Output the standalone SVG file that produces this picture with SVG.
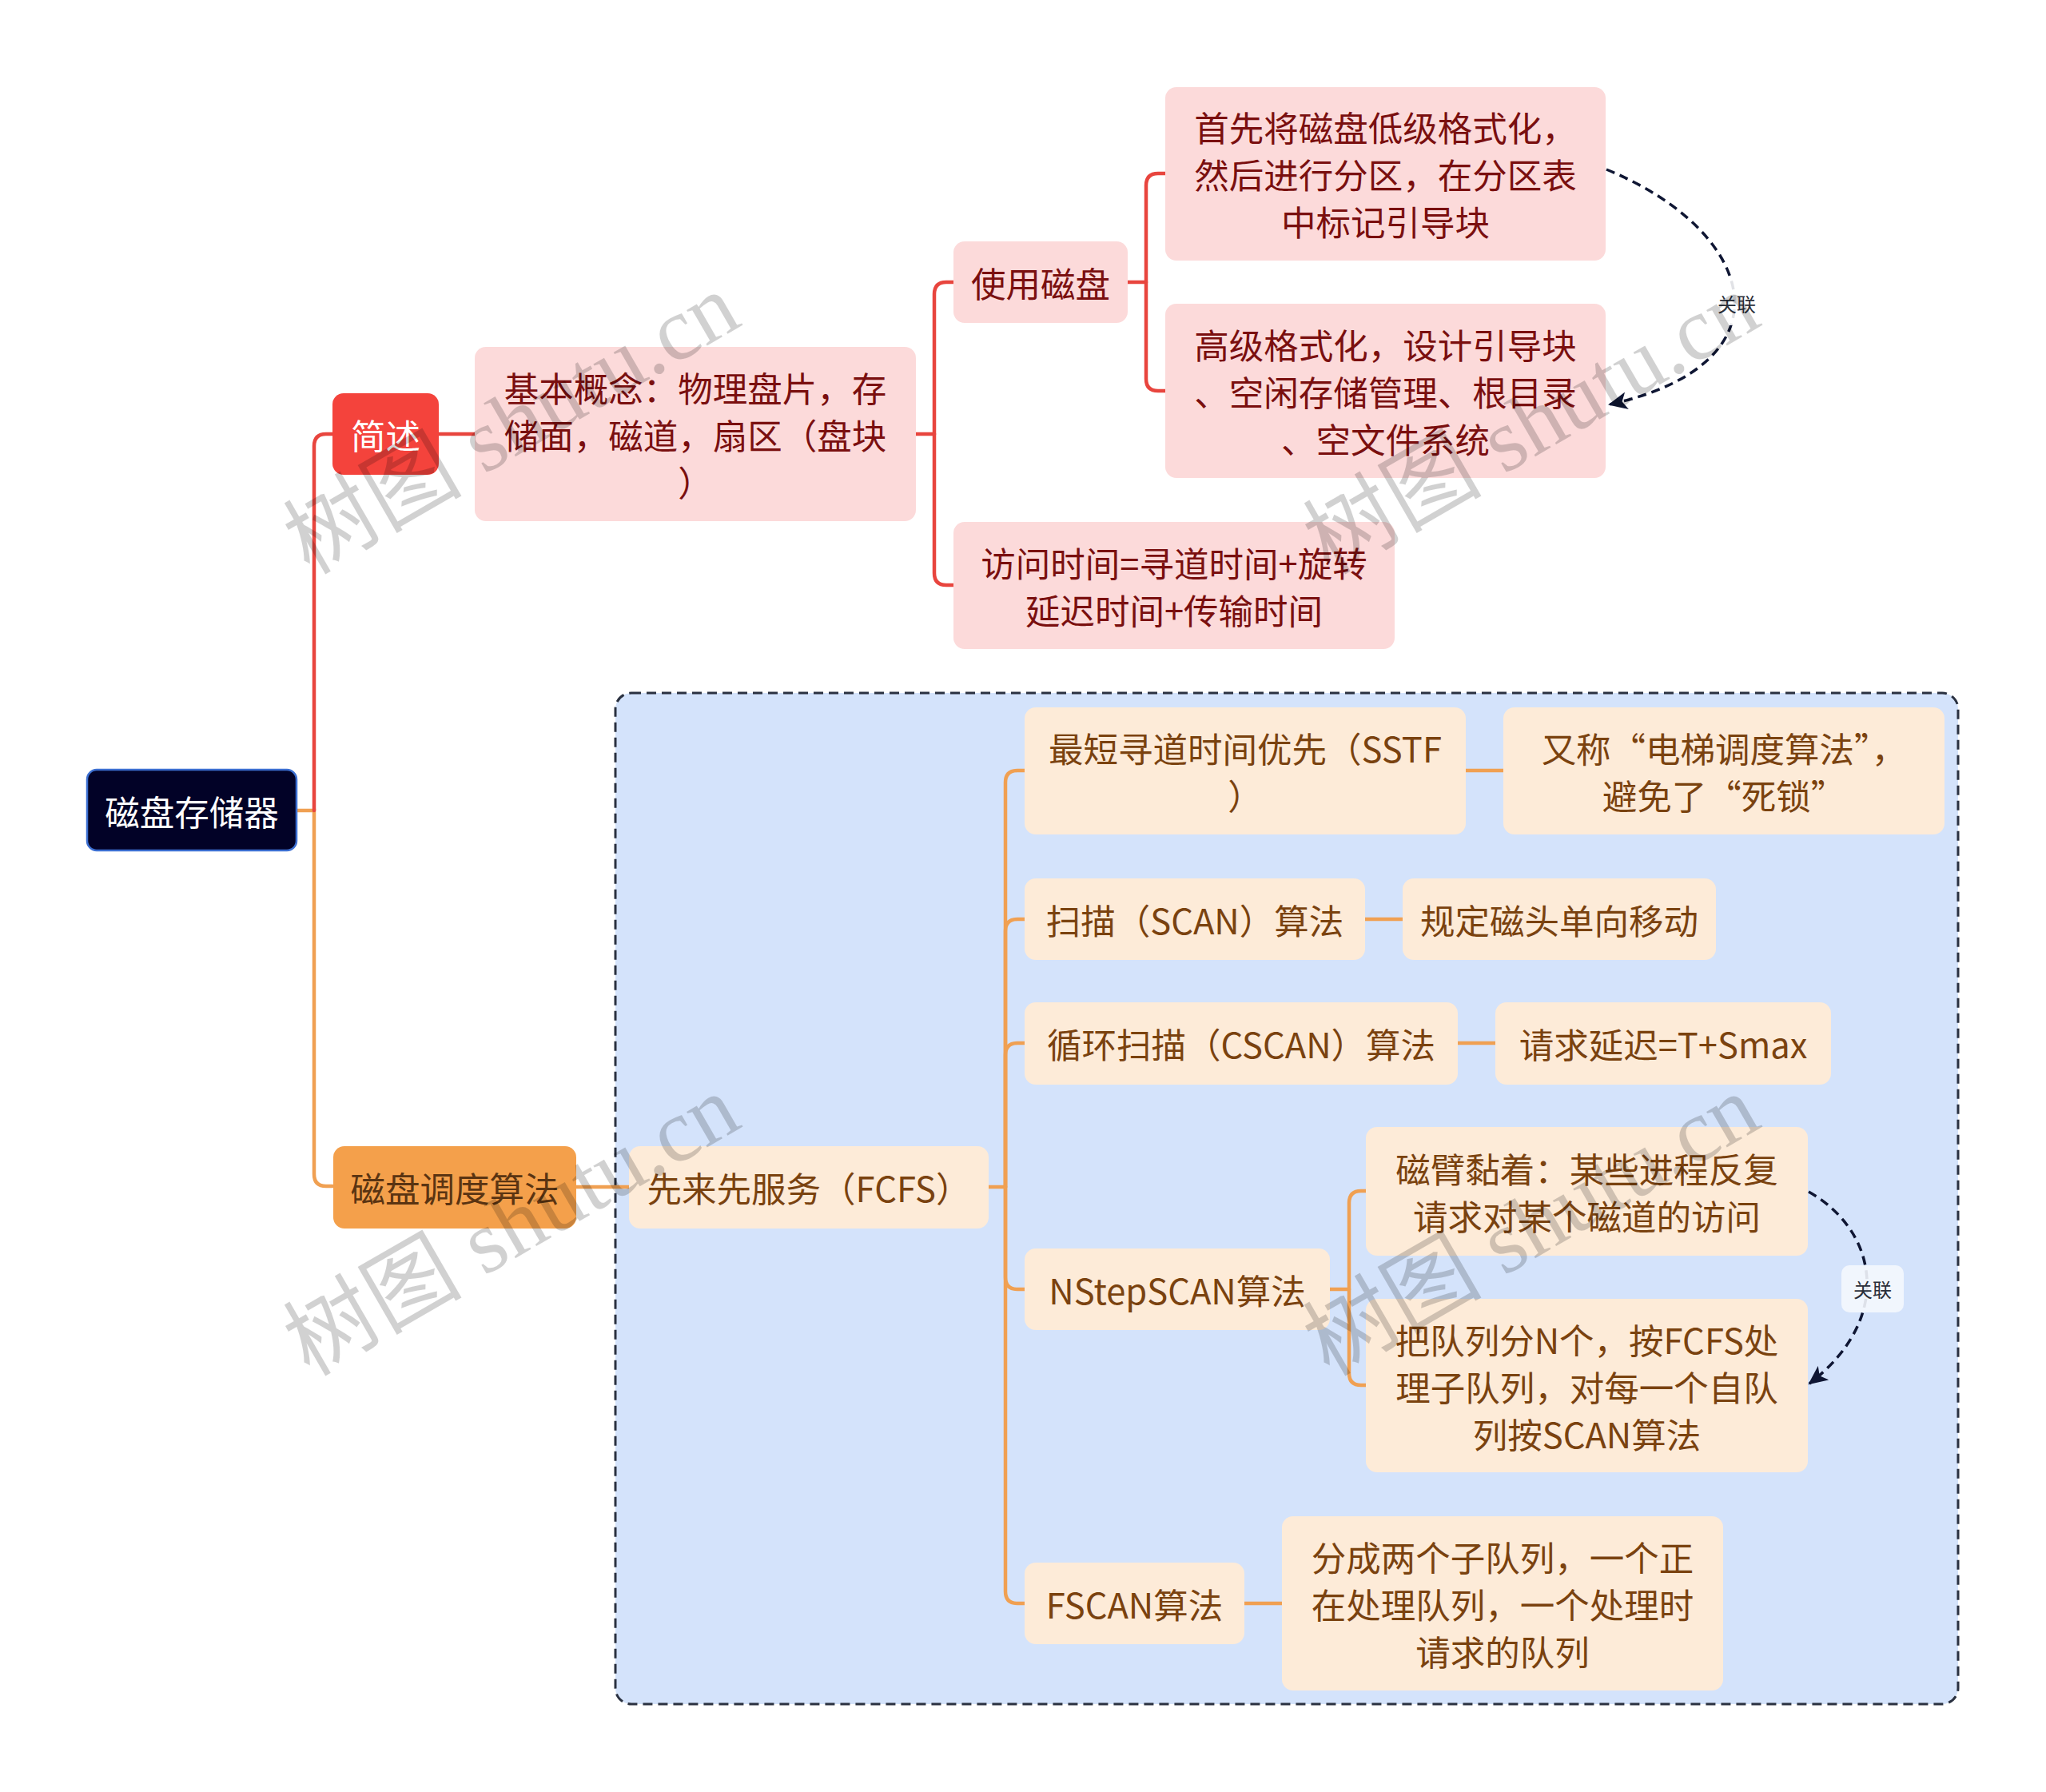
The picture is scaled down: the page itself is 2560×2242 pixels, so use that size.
<svg xmlns="http://www.w3.org/2000/svg" width="2560" height="2242" viewBox="0 0 2560 2242">
<style>
.t{font-family:"Noto Sans CJK SC","Noto Sans",sans-serif;font-size:43.5px;text-anchor:middle;dominant-baseline:central}
.w{fill:#ffffff}
.dr{fill:#7a0f0f}
.br{fill:#7a420f}
.pink{fill:#fcdada}
.peach{fill:#fdebd8}
.lr{fill:none;stroke:#e8453e;stroke-width:4.5;stroke-linecap:round}
.lo{fill:none;stroke:#f0a052;stroke-width:4.5;stroke-linecap:round}
.rel{fill:none;stroke:#0f1633;stroke-width:3.5;stroke-dasharray:11 7}
.lbl{font-family:"Noto Sans CJK SC","Noto Sans",sans-serif;font-size:24px;text-anchor:middle;dominant-baseline:central;fill:#2a2f3a}
.wm{font-family:"Liberation Serif","Noto Sans CJK SC",serif;font-size:112px;text-anchor:middle;dominant-baseline:central;fill:#000;fill-opacity:0.18}
</style>
<defs>
<marker id="arr" markerUnits="userSpaceOnUse" markerWidth="26" markerHeight="22" refX="22" refY="11" orient="auto">
<path d="M0,0 L24,11 L0,22 L6,11 Z" fill="#0f1633"/>
</marker>
</defs>
<rect width="2560" height="2242" fill="#ffffff"/>

<g id="boundary">
<rect x="770" y="867" width="1680" height="1265" rx="20" fill="#d4e3fb" stroke="#2a3140" stroke-width="3" stroke-dasharray="12 7"/>
</g>

<g id="connectors">
<path class="lo" d="M371,1014 H393 V1469 Q393,1484 408,1484 H416"/>
<path class="lr" d="M393,1014 V558 Q393,543 408,543 H416"/>
<path class="lr" d="M549,543 H594"/>
<path class="lr" d="M1146,543 H1169"/>
<path class="lr" d="M1169,543 V368 Q1169,353 1184,353 H1193"/>
<path class="lr" d="M1169,543 V717 Q1169,732 1184,732 H1193"/>
<path class="lr" d="M1411,353 H1434"/>
<path class="lr" d="M1434,353 V232 Q1434,217 1449,217 H1458"/>
<path class="lr" d="M1434,353 V474 Q1434,489 1449,489 H1458"/>
<path class="lo" d="M721,1485 H787"/>
<path class="lo" d="M1237,1485 H1258"/>
<path class="lo" d="M1258,1485 V979 Q1258,964 1273,964 H1282"/>
<path class="lo" d="M1258,1485 V1165 Q1258,1150 1273,1150 H1282"/>
<path class="lo" d="M1258,1485 V1320 Q1258,1305 1273,1305 H1282"/>
<path class="lo" d="M1258,1485 V1598 Q1258,1613 1273,1613 H1282"/>
<path class="lo" d="M1258,1485 V1991 Q1258,2006 1273,2006 H1282"/>
<path class="lo" d="M1834,964 H1881"/>
<path class="lo" d="M1708,1150 H1755"/>
<path class="lo" d="M1824,1305 H1871"/>
<path class="lo" d="M1664,1613 H1688"/>
<path class="lo" d="M1688,1613 V1505 Q1688,1490 1703,1490 H1709"/>
<path class="lo" d="M1688,1613 V1718 Q1688,1733 1703,1733 H1709"/>
<path class="lo" d="M1557,2006 H1604"/>
</g>

<g id="n-root">
<rect x="109" y="963" width="262" height="101" rx="12" fill="#020227" stroke="#3c6fd1" stroke-width="2.5"/>
<text class="t w" x="240" y="1014">磁盘存储器</text>
</g>
<g id="n-jianshu">
<rect x="416" y="492" width="133" height="102" rx="14" fill="#f4433c"/>
<text class="t w" x="482.5" y="543">简述</text>
</g>
<g id="n-jiben">
<rect class="pink" x="594" y="434" width="552" height="218" rx="14"/>
<text class="t dr" x="870" y="484">基本概念：物理盘片，存</text>
<text class="t dr" x="870" y="543">储面，磁道，扇区（盘块</text>
<text class="t dr" x="870" y="602">）</text>
</g>
<g id="n-shiyong">
<rect class="pink" x="1193" y="302" width="218" height="102" rx="14"/>
<text class="t dr" x="1302" y="353">使用磁盘</text>
</g>
<g id="n-shouxian">
<rect class="pink" x="1458" y="109" width="551" height="217" rx="14"/>
<text class="t dr" x="1733.5" y="158">首先将磁盘低级格式化，</text>
<text class="t dr" x="1733.5" y="217">然后进行分区，在分区表</text>
<text class="t dr" x="1733.5" y="276">中标记引导块</text>
</g>
<g id="n-gaoji">
<rect class="pink" x="1458" y="380" width="551" height="218" rx="14"/>
<text class="t dr" x="1733.5" y="430">高级格式化，设计引导块</text>
<text class="t dr" x="1733.5" y="489">、空闲存储管理、根目录</text>
<text class="t dr" x="1733.5" y="548">、空文件系统</text>
</g>
<g id="n-fangwen">
<rect class="pink" x="1193" y="653" width="552" height="159" rx="14"/>
<text class="t dr" x="1469" y="703">访问时间=寻道时间+旋转</text>
<text class="t dr" x="1469" y="762">延迟时间+传输时间</text>
</g>

<g id="n-diaodu">
<rect x="417" y="1434" width="304" height="103" rx="14" fill="#f4a04b"/>
<text class="t" x="569" y="1485" fill="#5a3412">磁盘调度算法</text>
</g>
<g id="n-fcfs">
<rect class="peach" x="787" y="1434" width="450" height="103" rx="14"/>
<text class="t br" x="1012" y="1485">先来先服务（FCFS）</text>
</g>
<g id="n-sstf">
<rect class="peach" x="1282" y="885" width="552" height="159" rx="14"/>
<text class="t br" x="1558" y="935">最短寻道时间优先（SSTF</text>
<text class="t br" x="1558" y="994">）</text>
</g>
<g id="n-youcheng">
<rect class="peach" x="1881" y="885" width="552" height="159" rx="14"/>
<text class="t br" x="2157" y="935">又称“电梯调度算法”，</text>
<text class="t br" x="2157" y="994">避免了“死锁”</text>
</g>
<g id="n-scan">
<rect class="peach" x="1282" y="1099" width="426" height="102" rx="14"/>
<text class="t br" x="1495" y="1150">扫描（SCAN）算法</text>
</g>
<g id="n-guiding">
<rect class="peach" x="1755" y="1099" width="392" height="102" rx="14"/>
<text class="t br" x="1951" y="1150">规定磁头单向移动</text>
</g>
<g id="n-cscan">
<rect class="peach" x="1282" y="1254" width="542" height="103" rx="14"/>
<text class="t br" x="1553" y="1305">循环扫描（CSCAN）算法</text>
</g>
<g id="n-qingqiu">
<rect class="peach" x="1871" y="1254" width="420" height="103" rx="14"/>
<text class="t br" x="2081" y="1305">请求延迟=T+Smax</text>
</g>
<g id="n-nstep">
<rect class="peach" x="1282" y="1562" width="382" height="102" rx="14"/>
<text class="t br" x="1473" y="1613">NStepSCAN算法</text>
</g>
<g id="n-cibi">
<rect class="peach" x="1709" y="1410" width="553" height="161" rx="14"/>
<text class="t br" x="1985.5" y="1461">磁臂黏着：某些进程反复</text>
<text class="t br" x="1985.5" y="1520">请求对某个磁道的访问</text>
</g>
<g id="n-baduilie">
<rect class="peach" x="1709" y="1625" width="553" height="217" rx="14"/>
<text class="t br" x="1985.5" y="1675">把队列分N个，按FCFS处</text>
<text class="t br" x="1985.5" y="1734">理子队列，对每一个自队</text>
<text class="t br" x="1985.5" y="1793">列按SCAN算法</text>
</g>
<g id="n-fscan">
<rect class="peach" x="1282" y="1955" width="275" height="102" rx="14"/>
<text class="t br" x="1419.5" y="2006">FSCAN算法</text>
</g>
<g id="n-fencheng">
<rect class="peach" x="1604" y="1897" width="552" height="218" rx="14"/>
<text class="t br" x="1880" y="1947">分成两个子队列，一个正</text>
<text class="t br" x="1880" y="2006">在处理队列，一个处理时</text>
<text class="t br" x="1880" y="2065">请求的队列</text>
</g>

<g id="relations">
<path class="rel" d="M2010,212 C2200,290 2245,455 2014,506" marker-end="url(#arr)"/>
<rect x="2134" y="351" width="78" height="56" rx="10" fill="#ffffff" fill-opacity="0.88"/>
<text class="lbl" x="2173" y="379">关联</text>
<path class="rel" d="M2263,1491 C2350,1540 2370,1650 2264,1731" marker-end="url(#arr)"/>
<rect x="2304" y="1583" width="78" height="59" rx="10" fill="#f4f7fd" fill-opacity="0.9"/>
<text class="lbl" x="2343" y="1612">关联</text>
</g>

<g id="watermarks">
<text class="wm" transform="translate(640,530) rotate(-30)">树图 shutu.cn</text>
<text class="wm" transform="translate(1916,530) rotate(-30)">树图 shutu.cn</text>
<text class="wm" transform="translate(640,1533) rotate(-30)">树图 shutu.cn</text>
<text class="wm" transform="translate(1916,1533) rotate(-30)">树图 shutu.cn</text>
</g>
</svg>
